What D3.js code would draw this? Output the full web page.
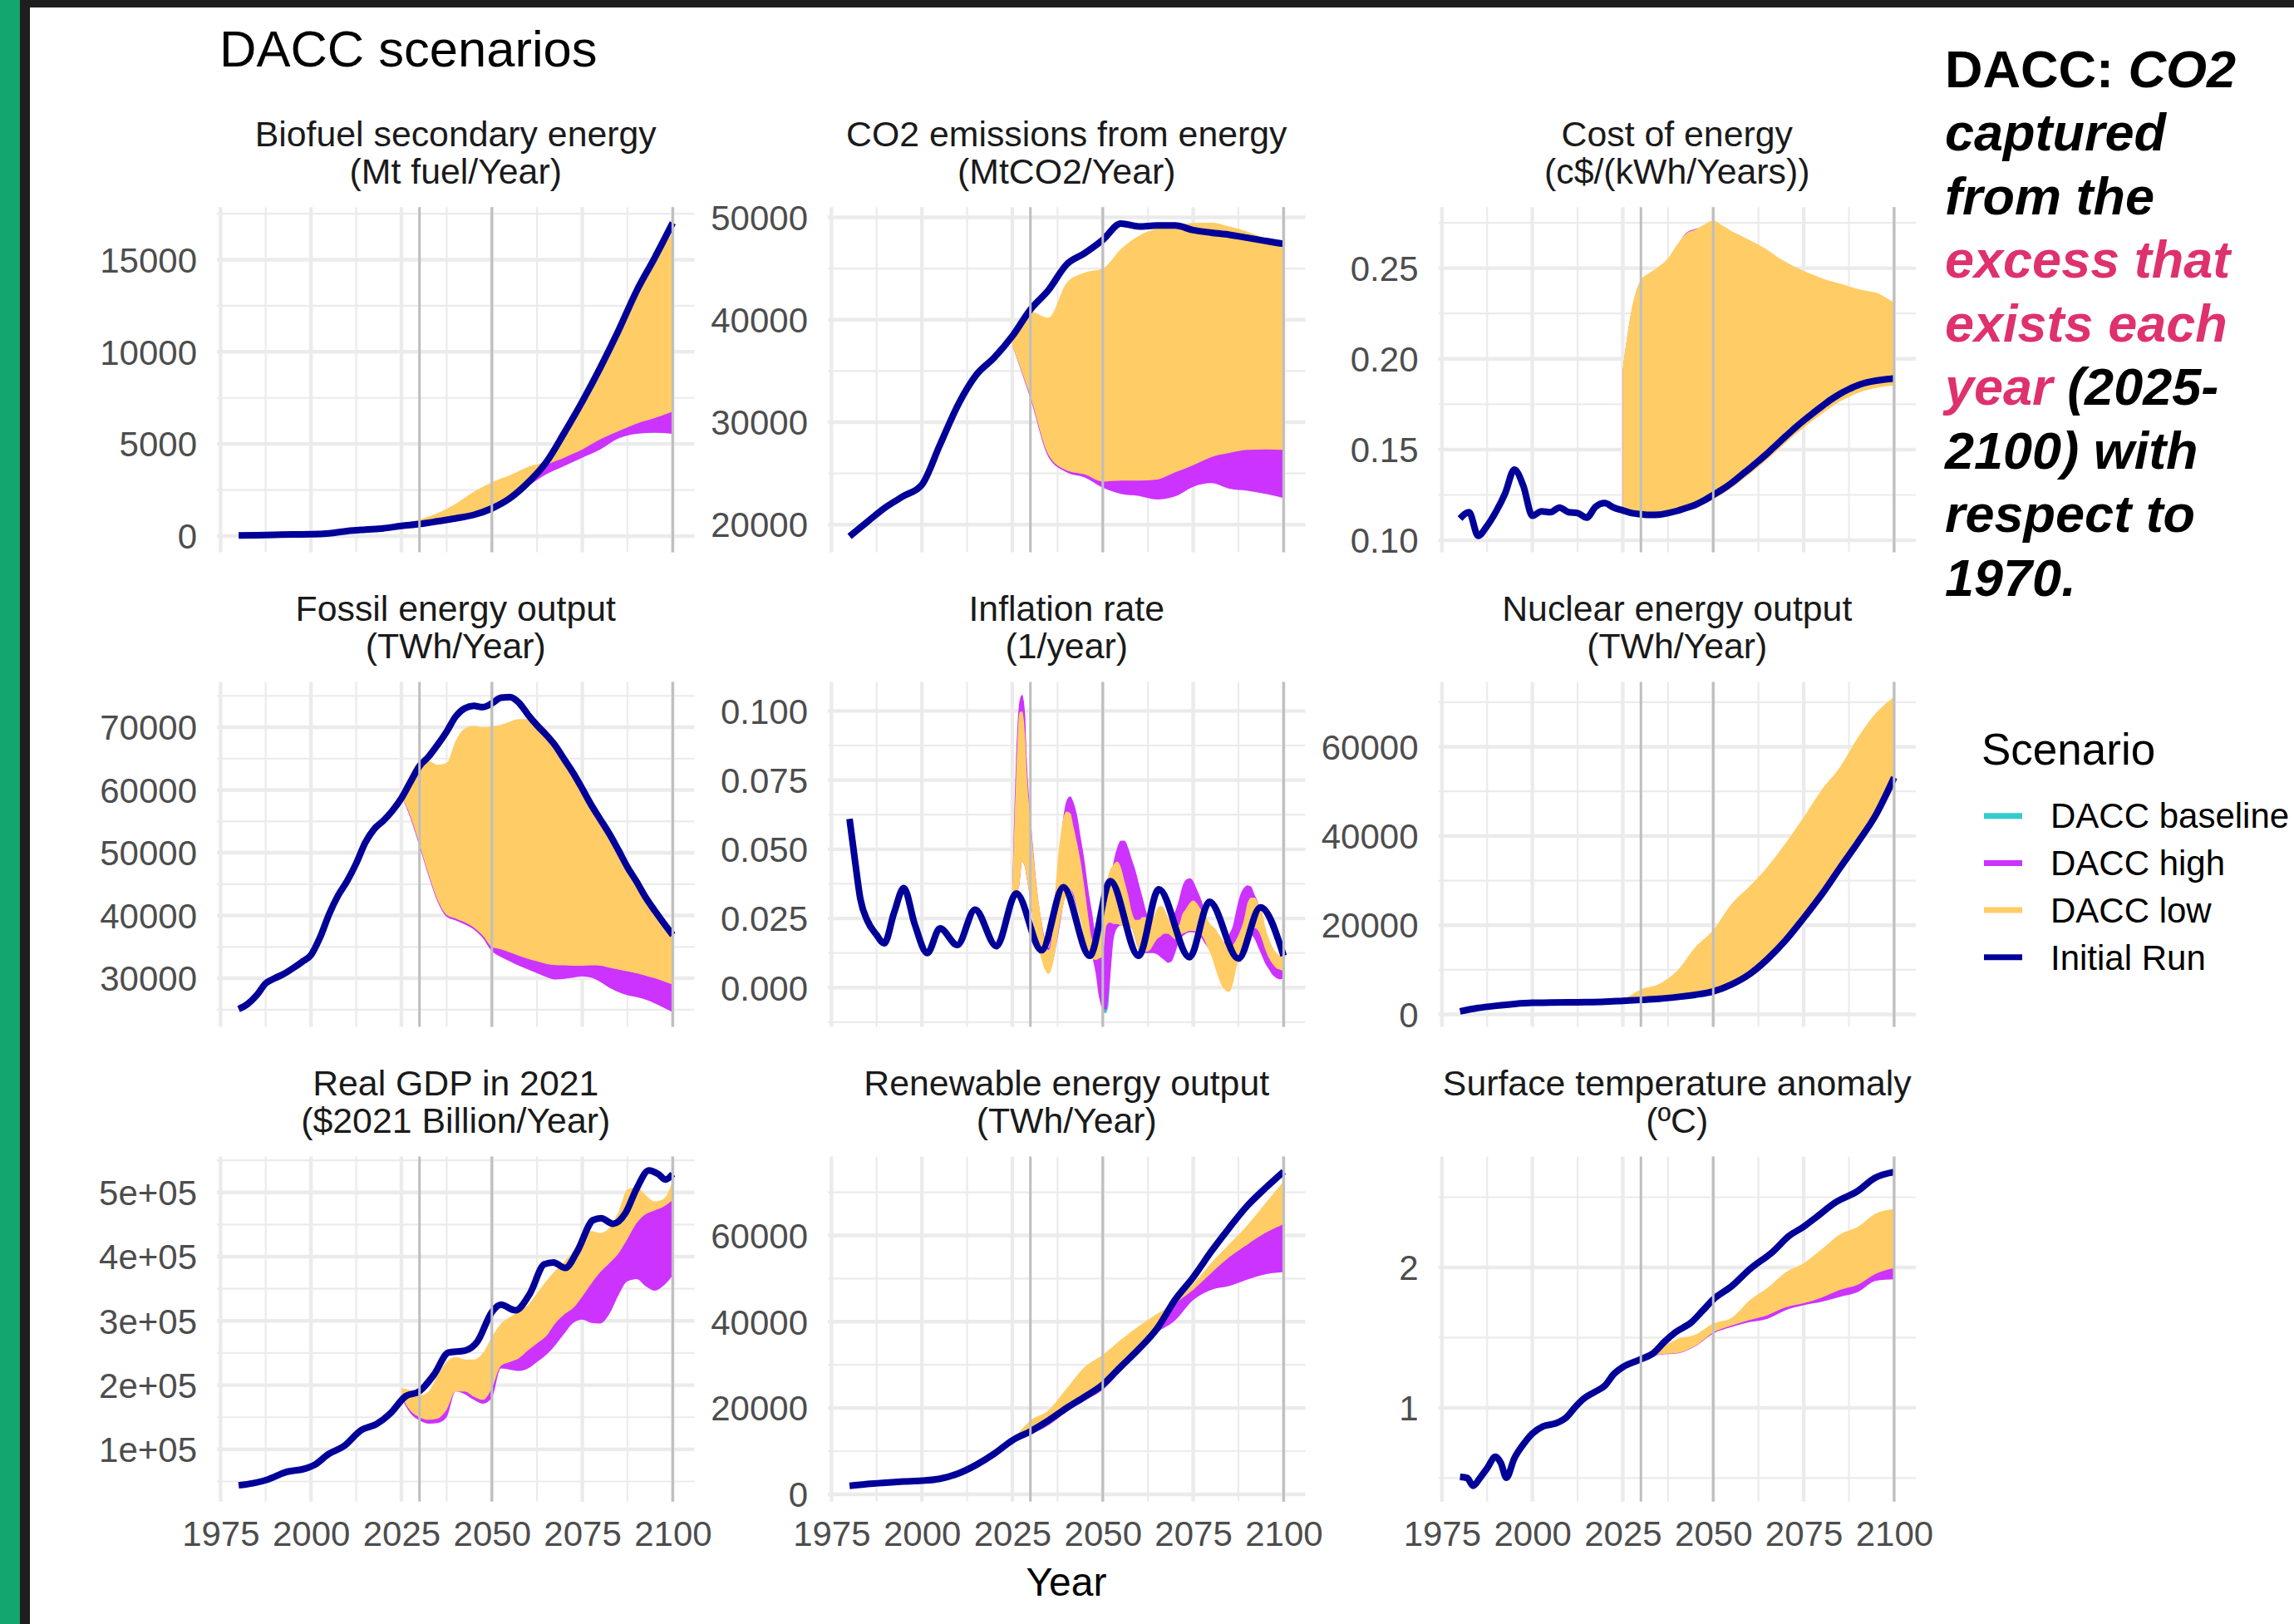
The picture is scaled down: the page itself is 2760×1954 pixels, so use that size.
<!DOCTYPE html>
<html><head><meta charset="utf-8">
<script src="https://cdn.jsdelivr.net/npm/d3@7"></script>
<style>
html,body{margin:0;padding:0;background:#fff;}
svg{display:block;font-family:"Liberation Sans",Arial,sans-serif;}
</style></head><body>
<svg id="chart" width="2760" height="1954"></svg>
<script>
// ---------------- DATA ----------------
const scenarioNames = ["DACC baseline","DACC high","DACC low","Initial Run"];
const scenarioColors = ["#33CCCC","#CC33FF","#FFCC66","#000099"];

const xTickYears = [1975,2000,2025,2050,2075,2100];
const xMinorYears = [1987.5,2012.5,2037.5,2062.5,2087.5];
const markerYears = [2030,2050,2100];

const yearsCoarse = [1980,1985,1990,1995,2000,2005,2010,2015,2020,2025,2030,2035,2040,2045,2050,2055,2060,2065,2070,2075,2080,2085,2090,2095,2100];
const yearsFine = [1980,1982.5,1985,1987.5,1990,1992.5,1995,1997.5,2000,2002.5,2005,2007.5,2010,2012.5,2015,2017.5,2020,2022.5,2025,2027.5,2030,2032.5,2035,2037.5,2040,2042.5,2045,2047.5,2050,2052.5,2055,2057.5,2060,2062.5,2065,2067.5,2070,2072.5,2075,2077.5,2080,2082.5,2085,2087.5,2090,2092.5,2095,2097.5,2100];
const bandYearsCoarse = [2025,2030,2035,2040,2045,2050,2055,2060,2065,2070,2075,2080,2085,2090,2095,2100];
const bandYearsFine = [2025,2027.5,2030,2032.5,2035,2037.5,2040,2042.5,2045,2047.5,2050,2052.5,2055,2057.5,2060,2062.5,2065,2067.5,2070,2072.5,2075,2077.5,2080,2082.5,2085,2087.5,2090,2092.5,2095,2097.5,2100];

// Biofuel secondary energy
const biofuelInitial = [30,50,70,90,100,150,270,350,420,550,650,800,960,1150,1500,2050,2900,4000,5600,7300,9150,11150,13300,15100,17000];
const biofuelLowLo  = [550,620,760,920,1100,1400,1950,2800,3800,4250,4700,5250,5700,6100,6400,6750];
const biofuelLowHi  = [650,900,1250,1750,2400,2920,3300,3750,4100,5500,7200,9050,11050,13200,15000,16450];
const biofuelHighLo = [540,600,740,900,1080,1380,1900,2700,3350,3800,4250,4700,5300,5550,5600,5550];
const biofuelHighHi = [600,700,850,1000,1200,1500,2100,3000,3950,4400,4850,5400,5850,6250,6550,6900];

// CO2 emissions from energy
const co2Initial = [18850,20300,21700,22800,23900,27800,31700,34600,36300,38400,41000,42900,45400,46500,47800,49400,49100,49200,49200,48750,48500,48300,48000,47700,47400];
const co2LowLo  = [37500,32500,26800,25300,24900,24200,24300,24300,24400,25100,25800,26600,27000,27300,27350,27300];
const co2LowHi  = [38000,40800,40200,43600,44600,45000,46900,48200,48900,49200,49450,49500,49100,48600,47900,46900];
const co2HighLo = [37500,32300,26600,25100,24600,23600,23000,22800,22450,22750,23700,24050,23500,23300,23000,22600];
const co2HighHi = [38000,34000,28000,26500,26000,25500,25500,25500,25500,26200,27000,27600,28000,28300,28300,28200];

// Cost of energy
const costInitial = [0.112,0.1155,0.1025,0.108,0.116,0.126,0.139,0.130,0.1135,0.116,0.1155,0.118,0.1155,0.115,0.1125,0.1185,0.1205,0.118,0.1165,0.115,0.1144,0.1140,0.1141,0.115,0.1162,0.1178,0.1195,0.122,0.125,0.128,0.1315,0.1355,0.1395,0.1437,0.148,0.1527,0.1573,0.1618,0.166,0.170,0.1738,0.1775,0.1807,0.1833,0.1855,0.1870,0.1880,0.1887,0.1893];
const costLowLo  = [0.1155,0.1138,0.1132,0.1128,0.1128,0.1136,0.1146,0.116,0.1175,0.1198,0.1226,0.1255,0.1288,0.1326,0.1365,0.1405,0.1447,0.1492,0.1537,0.158,0.162,0.166,0.1697,0.1732,0.1765,0.179,0.1812,0.1828,0.184,0.1848,0.1852];
const costLowHi  = [0.195,0.228,0.2435,0.2475,0.251,0.2555,0.263,0.269,0.2712,0.274,0.2763,0.2735,0.2705,0.268,0.2655,0.263,0.260,0.2565,0.2535,0.2508,0.2485,0.2465,0.2445,0.2428,0.2415,0.240,0.2385,0.2375,0.2365,0.234,0.231];
const costHighLo = [0.1158,0.1141,0.1135,0.1131,0.1131,0.1139,0.1149,0.1163,0.1178,0.1201,0.1229,0.1258,0.1291,0.1329,0.1368,0.1408,0.1450,0.1495,0.1540,0.1583,0.1623,0.1663,0.1700,0.1735,0.1768,0.1793,0.1815,0.1831,0.1843,0.1851,0.1855];
const costHighHi = [0.194,0.227,0.2425,0.2465,0.250,0.2545,0.262,0.2694,0.2716,0.273,0.2753,0.2725,0.2695,0.267,0.2645,0.262,0.259,0.2555,0.2525,0.2498,0.2475,0.2455,0.2435,0.2418,0.2405,0.239,0.2375,0.2365,0.2355,0.233,0.230];

// Fossil energy output
const fossilInitial = [25100,25900,27300,29200,30000,30700,31600,32600,33700,36500,40200,43200,45500,48300,51600,53800,55100,56700,58700,61300,63800,65300,67200,69300,71700,73000,73400,73200,73800,74700,74800,73900,72000,70300,68800,67100,64900,62700,60200,57600,55300,53000,50400,47700,45400,42900,40800,38800,36900];
const fossilLowLo  = [59000,55800,51300,46600,42500,40100,39500,38900,38100,36800,35000,34600,34100,33600,33100,32700,32300,32100,32050,32000,32000,32050,32000,31700,31400,31100,30800,30400,30000,29500,29000];
const fossilLowHi  = [59000,62500,64500,64600,64000,64300,67800,69800,70200,70000,70100,70400,70900,71300,71300,70900,69600,67900,65700,63500,61000,58400,56100,53800,51200,48500,46200,43700,41600,39600,37500];
const fossilHighLo = [59000,55500,51000,46300,42200,39800,39200,38600,37800,36400,34300,33400,32700,32000,31400,30800,30200,29800,29900,30100,30300,30100,29400,28500,27800,27300,27000,26600,26000,25300,24600];
const fossilHighHi = [59000,57000,53000,48500,44500,42000,41500,41000,40000,39000,37500,36500,36000,35500,35000,34500,34000,34000,34000,34000,34000,34000,34000,33500,33000,33000,32500,32000,31500,31000,30500];

// Inflation rate
const inflationYears = [1980,1981.5,1983,1985,1987.5,1989.6,1992.3,1995,1998,2001.5,2005,2009.8,2014.7,2020.6,2026.1,2033.1,2039.1,2046.4,2052.1,2059.9,2065.5,2074,2079.5,2087.5,2093.6,2100];
const inflationInitial = [0.061,0.046,0.032,0.024,0.019,0.016,0.027,0.036,0.023,0.0125,0.0214,0.0154,0.0282,0.0150,0.0340,0.0135,0.0363,0.0115,0.0385,0.0115,0.0355,0.0110,0.0310,0.0105,0.0290,0.0115];
const inflationBandYears = [2025,2026,2027,2027.7,2028.5,
  2029,2030,2031,2032,2033,2034,2035,2036,2037,2038,
  2039,2040,2041,2042,2043,2044,2045,2046,2047,2048,
  2049,2050,2051,2052,2053,2054,2055,2056,2057,2058,
  2059,2060,2061,2062,2063,2064,2065,2066,2067,2068,
  2069,2070,2071,2072,2073,2074,2075,2076,2077,2078,
  2079,2080,2081,2082,2083,2084,2085,2086,2087,2088,
  2089,2090,2091,2092,2093,2094,2095,2096,2097,2098,
  2099,2100];
const inflationLowHi = [0.0355,0.0746,0.0994,0.0998,0.0916,
  0.0776,0.0606,0.0455,0.0335,0.0245,0.0165,0.0135,0.0195,0.0375,0.0516,
  0.0606,0.0636,0.0631,0.0576,0.0516,0.0445,0.0355,0.0255,0.0175,0.0155,
  0.0225,0.0295,0.0375,0.0425,0.0445,0.0455,0.0435,0.0385,0.0335,0.0275,
  0.0245,0.0245,0.0255,0.0255,0.0245,0.0255,0.0285,0.0295,0.0285,0.0255,
  0.0235,0.0225,0.0225,0.0265,0.0285,0.0305,0.0315,0.0305,0.0285,0.0265,
  0.0245,0.0225,0.0215,0.0195,0.0175,0.0155,0.0145,0.0155,0.0175,0.0205,
  0.0245,0.0305,0.0325,0.0325,0.0305,0.0275,0.0215,0.0175,0.0145,0.0125,
  0.0115,0.0105];
const inflationLowLo = [0.0315,0.0335,0.0375,0.0455,0.0435,
  0.0395,0.0315,0.0225,0.0155,0.0105,0.0065,0.0050,0.0075,0.0145,0.0225,
  0.0295,0.0335,0.0355,0.0335,0.0285,0.0235,0.0175,0.0125,0.0105,0.0100,
  0.0105,0.0115,0.0225,0.0235,0.0230,0.0230,0.0225,0.0225,0.0220,0.0215,
  0.0175,0.0135,0.0130,0.0130,0.0135,0.0155,0.0175,0.0185,0.0195,0.0195,
  0.0185,0.0175,0.0185,0.0195,0.0200,0.0205,0.0205,0.0200,0.0195,0.0175,
  0.0145,0.0115,0.0075,0.0035,0.0005,-0.0010,-0.0015,0.0015,0.0075,0.0115,
  0.0145,0.0175,0.0205,0.0215,0.0205,0.0175,0.0135,0.0105,0.0085,0.0070,
  0.0065,0.0060];
const inflationHighHi = [0.0355,0.0816,0.1036,0.1058,0.0996,
  0.0826,0.0626,0.0465,0.0335,0.0245,0.0175,0.0145,0.0215,0.0355,0.0475,
  0.0606,0.0676,0.0691,0.0666,0.0616,0.0535,0.0455,0.0355,0.0275,0.0195,
  0.0175,0.0195,0.0245,0.0375,0.0455,0.0506,0.0531,0.0531,0.0506,0.0465,
  0.0425,0.0375,0.0325,0.0275,0.0235,0.0205,0.0195,0.0205,0.0215,0.0225,
  0.0245,0.0275,0.0315,0.0365,0.0390,0.0395,0.0385,0.0355,0.0325,0.0285,
  0.0235,0.0195,0.0155,0.0145,0.0155,0.0175,0.0195,0.0225,0.0285,0.0335,
  0.0360,0.0370,0.0365,0.0335,0.0305,0.0245,0.0195,0.0155,0.0125,0.0105,
  0.0090,0.0085];
const inflationHighLo = [0.0315,0.0335,0.0375,0.0455,0.0435,
  0.0395,0.0315,0.0225,0.0155,0.0115,0.0085,0.0075,0.0085,0.0145,0.0215,
  0.0295,0.0345,0.0355,0.0325,0.0285,0.0245,0.0195,0.0155,0.0115,0.0055,
  -0.0035,-0.0075,-0.0080,0.0025,0.0175,0.0215,0.0225,0.0225,0.0220,0.0215,
  0.0175,0.0135,0.0125,0.0125,0.0125,0.0125,0.0120,0.0110,0.0100,0.0090,
  0.0095,0.0125,0.0165,0.0185,0.0195,0.0200,0.0200,0.0195,0.0185,0.0165,
  0.0145,0.0125,0.0085,0.0075,0.0075,0.0085,0.0115,0.0145,0.0175,0.0195,
  0.0205,0.0205,0.0195,0.0175,0.0145,0.0115,0.0085,0.0065,0.0045,0.0035,
  0.0030,0.0035];
const inflationBaseYears = [2049,2050,2050.7,2051.5,2052];
const inflationBaseLo = [-0.003,-0.0078,-0.0093,-0.007,0.003];
const inflationBaseHi = [0.012,0.012,0.012,0.015,0.025];

// Nuclear energy output
const nuclearInitial = [700,1450,1950,2350,2600,2650,2700,2750,2850,3050,3250,3500,3900,4400,5150,6700,9000,12400,16600,21600,26900,32800,38600,44800,53100];
const nuclearLowLo  = [3000,3150,3350,3750,4200,4900,6400,8600,11800,16000,20900,26100,31800,37300,43800,50900];
const nuclearLowHi  = [3100,5600,6800,9800,15000,18900,24700,28700,33100,38400,44200,50400,55400,62100,67600,71200];
const nuclearHighLo = [3050,3200,3400,3800,4250,4950,6450,8650,11850,16050,20950,26150,31850,37350,43850,50950];
const nuclearHighHi = [3100,3400,3800,4500,5200,6000,7500,9800,13000,17300,22300,27600,33300,39000,45500,52500];

// Real GDP
const gdpYears = [1980,1984,1988,1993,1998.5,2001,2005,2009,2014,2018,2022,2026,2030,2034,2038,2042.5,2046,2050,2052.5,2056.5,2060.5,2064.5,2067,2070.3,2073.6,2078,2080.2,2083.5,2087,2090,2093.4,2096,2098,2100];
const gdpInitial = [44000,47300,53000,64500,70200,75900,93100,104600,130400,139000,156200,182000,190600,216300,250700,253600,267900,313700,325200,316600,342400,388200,391100,382500,408300,457000,459800,451300,468500,505700,534400,528600,520100,528600];
const gdpLowLo  = [182000,160000,150000,146000,148000,162000,190000,190000,182000,177000,195000,230000,236000,242000,254000,265000,276000,296000,310000,320000,338000,358000,376000,390000,405000,428000,452000,466000,472000,478000,488000];
const gdpLowHi  = [195000,192000,184000,190000,215000,236000,244000,240000,240000,250000,275000,296000,306000,315000,325000,343000,362000,378000,392000,408000,433000,440000,437000,445000,470000,505000,508000,496000,486000,490000,518000];
const gdpHighLo = [180000,156000,145000,140000,141000,150000,190000,186000,177000,171000,180000,226000,224000,222000,226000,236000,247000,262000,280000,297000,302000,297000,296000,311000,340000,362000,365000,354000,347000,355000,371000];
const gdpHighHi = [185000,165000,156000,152000,155000,170000,200000,198000,190000,185000,205000,240000,246000,252000,264000,275000,286000,306000,320000,330000,348000,368000,386000,400000,415000,438000,462000,476000,482000,488000,491000];

// Renewable energy output
const renewInitial = [1950,2400,2700,2950,3150,3600,4800,6800,9400,12500,14600,17100,20000,22600,25400,29600,33700,38400,45100,50300,56300,61800,66900,71000,74800];
const renewLowLo  = [12300,14000,16200,19300,21900,24400,28800,33000,38500,44000,47400,51300,55000,57900,60600,62600];
const renewLowHi  = [12500,17100,19500,24500,29500,32300,35800,39000,41800,44500,48800,53600,58000,62400,67500,72500];
const renewHighLo = [12200,13900,16000,19100,21700,24200,28600,32700,37400,40300,45000,47400,48300,49800,51000,51500];
const renewHighHi = [12400,14200,16500,19600,22300,24800,29300,33600,39000,44500,48000,52000,55600,58500,61200,63200];

// Surface temperature anomaly
const tempYears = [1980,1982,1983.6,1985.5,1987.5,1989.8,1991.3,1992.8,1995,1997.5,2000,2003,2006.5,2009.5,2012,2014.2,2017,2020,2022.5,2025,2030,2033.6,2036.5,2039.5,2044,2047,2050,2055,2060,2066.5,2071,2075,2078,2084,2090,2094.5,2100];
const tempInitial = [0.508,0.50,0.445,0.50,0.57,0.652,0.607,0.503,0.64,0.74,0.817,0.869,0.890,0.935,1.01,1.065,1.11,1.157,1.24,1.29,1.346,1.393,1.47,1.537,1.61,1.69,1.772,1.864,1.985,2.113,2.225,2.29,2.348,2.466,2.545,2.635,2.68];
const tempLowLo  = [1.285,1.33,1.38,1.39,1.44,1.537,1.585,1.625,1.66,1.715,1.745,1.785,1.84,1.877,1.955,1.995];
const tempLowHi  = [1.29,1.345,1.42,1.49,1.52,1.60,1.64,1.765,1.855,1.965,2.03,2.13,2.235,2.29,2.385,2.415];
const tempHighLo = [1.283,1.327,1.377,1.387,1.437,1.53,1.575,1.61,1.635,1.695,1.73,1.755,1.79,1.825,1.905,1.916];
const tempHighHi = [1.29,1.34,1.39,1.40,1.45,1.55,1.60,1.64,1.675,1.73,1.76,1.80,1.855,1.89,1.97,2.01];

// ---------------- PANEL SPECS ----------------
const panels = [
  {title:["Biofuel secondary energy","(Mt fuel/Year)"], domain:[-880,17850],
   ticks:[0,5000,10000,15000], tickLabels:["0","5000","10000","15000"], minor:[2500,7500,12500,17500],
   initial:[yearsCoarse,biofuelInitial],
   high:[bandYearsCoarse,biofuelHighLo,biofuelHighHi], low:[bandYearsCoarse,biofuelLowLo,biofuelLowHi]},
  {title:["CO2 emissions from energy","(MtCO2/Year)"], domain:[17300,50990],
   ticks:[20000,30000,40000,50000], tickLabels:["20000","30000","40000","50000"], minor:[25000,35000,45000],
   initial:[yearsCoarse,co2Initial],
   high:[bandYearsCoarse,co2HighLo,co2HighHi], low:[bandYearsCoarse,co2LowLo,co2LowHi]},
  {title:["Cost of energy","(c$/(kWh/Years))"], domain:[0.0934,0.2836],
   ticks:[0.10,0.15,0.20,0.25], tickLabels:["0.10","0.15","0.20","0.25"], minor:[0.125,0.175,0.225,0.275],
   initial:[yearsFine,costInitial],
   high:[bandYearsFine,costHighLo,costHighHi], low:[bandYearsFine,costLowLo,costLowHi]},
  {title:["Fossil energy output","(TWh/Year)"], domain:[22250,77230],
   ticks:[30000,40000,50000,60000,70000], tickLabels:["30000","40000","50000","60000","70000"], minor:[25000,35000,45000,55000,65000,75000],
   initial:[yearsFine,fossilInitial],
   high:[bandYearsFine,fossilHighLo,fossilHighHi], low:[bandYearsFine,fossilLowLo,fossilLowHi]},
  {title:["Inflation rate","(1/year)"], domain:[-0.0142,0.1105],
   ticks:[0,0.025,0.05,0.075,0.1], tickLabels:["0.000","0.025","0.050","0.075","0.100"], minor:[-0.0125,0.0125,0.0375,0.0625,0.0875],
   initial:[inflationYears,inflationInitial],
   base:[inflationBaseYears,inflationBaseLo,inflationBaseHi],
   high:[inflationBandYears,inflationHighLo,inflationHighHi], low:[inflationBandYears,inflationLowLo,inflationLowHi]},
  {title:["Nuclear energy output","(TWh/Year)"], domain:[-2800,74550],
   ticks:[0,20000,40000,60000], tickLabels:["0","20000","40000","60000"], minor:[10000,30000,50000,70000],
   initial:[yearsCoarse,nuclearInitial],
   high:[bandYearsCoarse,nuclearHighLo,nuclearHighHi], low:[bandYearsCoarse,nuclearLowLo,nuclearLowHi]},
  {title:["Real GDP in 2021","($2021 Billion/Year)"], domain:[18700,556000],
   ticks:[100000,200000,300000,400000,500000], tickLabels:["1e+05","2e+05","3e+05","4e+05","5e+05"], minor:[50000,150000,250000,350000,450000,550000],
   initial:[gdpYears,gdpInitial],
   high:[bandYearsFine,gdpHighLo,gdpHighHi], low:[bandYearsFine,gdpLowLo,gdpLowHi]},
  {title:["Renewable energy output","(TWh/Year)"], domain:[-1690,78300],
   ticks:[0,20000,40000,60000], tickLabels:["0","20000","40000","60000"], minor:[10000,30000,50000,70000],
   initial:[yearsCoarse,renewInitial],
   high:[bandYearsCoarse,renewHighLo,renewHighHi], low:[bandYearsCoarse,renewLowLo,renewLowHi]},
  {title:["Surface temperature anomaly","(\u00BAC)"], domain:[0.3325,2.79],
   ticks:[1,2], tickLabels:["1","2"], minor:[0.5,1.5,2.5],
   initial:[tempYears,tempInitial],
   high:[bandYearsCoarse,tempHighLo,tempHighHi], low:[bandYearsCoarse,tempLowLo,tempLowHi]}
];

// ---------------- LAYOUT ----------------
const colX = [261, 996, 1730.5];
const rowY = [249.3, 820.4, 1391.5];
const PW = 574.5, PH = 415.2;
const GRID = "#EBEBEB";
const FONT = "Liberation Sans, Arial, sans-serif";
const color = d3.scaleOrdinal().domain(scenarioNames).range(scenarioColors);

const svg = d3.select("#chart");
svg.append("rect").attr("width",2760).attr("height",1954).attr("fill","#ffffff");
svg.append("rect").attr("x",0).attr("y",0).attr("width",24).attr("height",1954).attr("fill","#13A66F");
svg.append("rect").attr("x",24).attr("y",0).attr("width",12).attr("height",1954).attr("fill","#1E1E1E");
svg.append("rect").attr("x",24).attr("y",0).attr("width",2736).attr("height",9).attr("fill","#1E1E1E");

svg.append("text").attr("x",264).attr("y",80).attr("font-size",61.5).attr("fill","#000").text("DACC scenarios");

function zip3(a){ return a[0].map((d,i)=>[d,a[1][i],a[2][i]]); }

panels.forEach((p,i)=>{
  const col=i%3, row=Math.floor(i/3);
  const x0=colX[col], y0=rowY[row];
  const x=d3.scaleLinear().domain([1974,2106]).range([x0,x0+PW]);
  const y=d3.scaleLinear().domain(p.domain).range([y0+PH,y0]);
  const g=svg.append("g");

  const grid=g.append("g");
  xMinorYears.forEach(v=>grid.append("line").attr("x1",x(v)).attr("x2",x(v)).attr("y1",y0).attr("y2",y0+PH).attr("stroke",GRID).attr("stroke-width",2.2));
  p.minor.filter(v=>v>=p.domain[0]&&v<=p.domain[1]).forEach(v=>grid.append("line").attr("x1",x0).attr("x2",x0+PW).attr("y1",y(v)).attr("y2",y(v)).attr("stroke",GRID).attr("stroke-width",2.2));
  xTickYears.forEach(v=>grid.append("line").attr("x1",x(v)).attr("x2",x(v)).attr("y1",y0).attr("y2",y0+PH).attr("stroke",GRID).attr("stroke-width",4.4));
  p.ticks.forEach(v=>grid.append("line").attr("x1",x0).attr("x2",x0+PW).attr("y1",y(v)).attr("y2",y(v)).attr("stroke",GRID).attr("stroke-width",4.4));

  const area=d3.area().x(d=>x(d[0])).y0(d=>y(d[1])).y1(d=>y(d[2])).curve(d3.curveMonotoneX);
  if(p.base) g.append("path").attr("d",area(zip3(p.base))).attr("fill",color("DACC baseline"));
  g.append("path").attr("d",area(zip3(p.high))).attr("fill",color("DACC high"));
  g.append("path").attr("d",area(zip3(p.low))).attr("fill",color("DACC low"));

  const line=d3.line().x(d=>x(d[0])).y(d=>y(d[1])).curve(d3.curveMonotoneX);
  const pts=p.initial[0].map((d,k)=>[d,p.initial[1][k]]);
  g.append("path").attr("d",line(pts)).attr("fill","none").attr("stroke",color("Initial Run")).attr("stroke-width",8).attr("stroke-linejoin","round").attr("stroke-linecap","butt");

  markerYears.forEach(v=>g.append("line").attr("x1",x(v)).attr("x2",x(v)).attr("y1",y0).attr("y2",y0+PH).attr("stroke","#BEBEBE").attr("stroke-width",3));

  const ya=g.append("g").attr("transform",`translate(${x0-24},0)`)
    .call(d3.axisLeft(y).tickValues(p.ticks).tickFormat((d,k)=>p.tickLabels[k]).tickSize(0).tickPadding(0));
  ya.select(".domain").remove();
  ya.selectAll("text").attr("font-size",42).attr("fill","#4D4D4D").attr("font-family",FONT).attr("dy","0.35em");

  if(row===2){
    const xa=g.append("g").attr("transform",`translate(0,${1860-29.5})`)
      .call(d3.axisBottom(x).tickValues(xTickYears).tickFormat(d3.format("d")).tickSize(0).tickPadding(0));
    xa.select(".domain").remove();
    xa.selectAll("text").attr("font-size",42).attr("fill","#4D4D4D").attr("font-family",FONT);
  }

  g.append("text").attr("x",x0+PW/2).attr("y",y0-73.5).attr("text-anchor","middle").attr("font-size",42.8).attr("fill","#1A1A1A").text(p.title[0]);
  g.append("text").attr("x",x0+PW/2).attr("y",y0-28.3).attr("text-anchor","middle").attr("font-size",42.8).attr("fill","#1A1A1A").text(p.title[1]);
});

svg.append("text").attr("x",1283).attr("y",1919.5).attr("text-anchor","middle").attr("font-size",48).attr("fill","#000").text("Year");

const leg=svg.append("g");
leg.append("text").attr("x",2384).attr("y",920).attr("font-size",53).attr("fill","#000").text("Scenario");
scenarioNames.forEach((n,k)=>{
  const cy=981.7+56.7*k;
  leg.append("line").attr("x1",2387).attr("x2",2433).attr("y1",cy).attr("y2",cy).attr("stroke",color(n)).attr("stroke-width",7);
  leg.append("text").attr("x",2467).attr("y",cy).attr("dy","0.35em").attr("font-size",42).attr("fill","#000").text(n);
});

const PINK="#DE316E";
const noteLines=[
  [["DACC: ","#000","normal"],["CO2","#000","italic"]],
  [["captured","#000","italic"]],
  [["from the","#000","italic"]],
  [["excess that",PINK,"italic"]],
  [["exists each",PINK,"italic"]],
  [["year",PINK,"italic"],[" (2025-","#000","italic"]],
  [["2100) with","#000","italic"]],
  [["respect to","#000","italic"]],
  [["1970.","#000","italic"]]
];
const note=svg.append("g");
noteLines.forEach((ln,k)=>{
  const t=note.append("text").attr("x",2340).attr("y",104.6+76.5*k).attr("font-size",63).attr("font-weight","bold").attr("xml:space","preserve");
  ln.forEach(s=>t.append("tspan").attr("fill",s[1]).attr("font-style",s[2]).text(s[0]));
});
</script>
</body></html>
